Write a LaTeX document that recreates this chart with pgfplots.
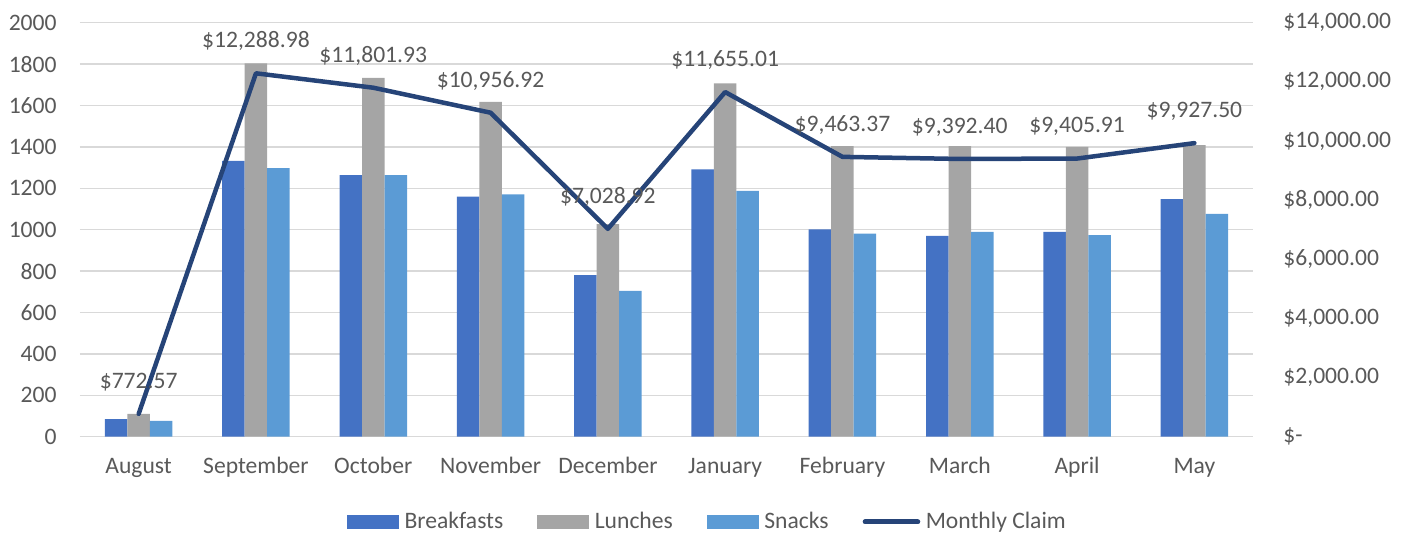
\documentclass[border=0pt]{standalone}
\usepackage{pgfplots}
\pgfplotsset{compat=1.18}
\usepackage{fontspec}
\setmainfont{Carlito}
\definecolor{breakfast}{HTML}{4472C4}
\definecolor{lunch}{HTML}{A5A5A5}
\definecolor{snack}{HTML}{5B9BD5}
\definecolor{claim}{HTML}{264478}
\definecolor{gridgray}{HTML}{D9D9D9}
\definecolor{txt}{HTML}{595959}

\newcommand{\lbl}{\fontsize{11.8}{14}\selectfont}

\pgfplotsset{
  mealaxis/.style={
    scale only axis, width=586.5pt, height=207pt,
    xmin=-0.5, xmax=9.5,
    major tick length=0pt,
    axis line style={draw=none},
    tick label style={font=\lbl, text=txt},
    /pgf/number format/assume math mode=true,
  },
  barlegend/.style={legend image code/.code={\fill[##1] (0pt,-3.5pt) rectangle (26pt,3.5pt);}},
  linelegend/.style={legend image code/.code={%
    \path[draw=none, fill=none] (-1.1pt,-3.5pt) rectangle (27.4pt,3.5pt);
    \draw[##1, line cap=round] (0pt,0pt) -- (26.3pt,0pt);}},
}

\begin{document}
\begin{tikzpicture}
\path[use as bounding box] (-40pt,-47.65pt) rectangle (665.5pt,218.35pt);

% meals, left axis
\begin{axis}[mealaxis,
  ybar=0pt, bar width=11.25pt,
  ymin=0, ymax=2000, ytick={0,200,...,2000},
  /pgf/number format/1000 sep={},
  axis x line*=bottom, axis y line*=left,
  xtick={0,...,9},
  xticklabels={August,September,October,November,December,January,February,March,April,May},
  xticklabel style={anchor=base, inner sep=0pt, yshift=-18.2pt},
  yticklabel style={anchor=east, inner sep=0pt, xshift=-11.5pt},
  ymajorgrids, grid style={gridgray, line width=0.75pt},
  legend columns=-1,
  legend style={draw=none, fill=none, at={(0.5341,-0.206)}, anchor=center,
    font=\lbl, text=txt, nodes={inner sep=0pt},
    /tikz/every odd column/.append style={column sep=2.75pt},
    /tikz/every even column/.append style={column sep=17pt}},
]
\addplot[fill=breakfast, draw=none, barlegend] coordinates {
  (0,85) (1,1333) (2,1264) (3,1160) (4,781) (5,1292) (6,1002) (7,970) (8,989) (9,1148)
};
\addlegendentry{Breakfasts}
\addplot[fill=lunch, draw=none, barlegend] coordinates {
  (0,110) (1,1804) (2,1733) (3,1617) (4,1027) (5,1707) (6,1404) (7,1404) (8,1400) (9,1409)
};
\addlegendentry{Lunches}
\addplot[fill=snack, draw=none, barlegend] coordinates {
  (0,76) (1,1297) (2,1264) (3,1171) (4,705) (5,1187) (6,981) (7,989) (8,974) (9,1077)
};
\addlegendentry{Snacks}
\addlegendimage{claim, line width=2.5pt, linelegend}
\addlegendentry{Monthly Claim}
\end{axis}

% monthly claim, right axis
\begin{axis}[mealaxis,
  ymin=0, ymax=14000, ytick={0,2000,...,14000},
  scaled y ticks=false,
  yticklabels={{\$-},{\$2,000.00},{\$4,000.00},{\$6,000.00},{\$8,000.00},{\$10,000.00},{\$12,000.00},{\$14,000.00}},
  axis x line=none, axis y line*=right,
  yticklabel style={anchor=west, inner sep=0pt, xshift=15pt},
  nodes near coords, point meta=explicit symbolic,
  every node near coord/.append style={anchor=center, yshift=16pt, font=\lbl, text=txt, inner sep=0pt},
  clip=false,
]
\addplot[claim, line width=2.25pt, line join=round, line cap=round, mark=none] coordinates {
  (0,772.57) [{\$772.57}]
  (1,12288.98) [{\$12,288.98}]
  (2,11801.93) [{\$11,801.93}]
  (3,10956.92) [{\$10,956.92}]
  (4,7028.92) [{\$7,028.92}]
  (5,11655.01) [{\$11,655.01}]
  (6,9463.37) [{\$9,463.37}]
  (7,9392.40) [{\$9,392.40}]
  (8,9405.91) [{\$9,405.91}]
  (9,9927.50) [{\$9,927.50}]
};
\end{axis}
\end{tikzpicture}
\end{document}
